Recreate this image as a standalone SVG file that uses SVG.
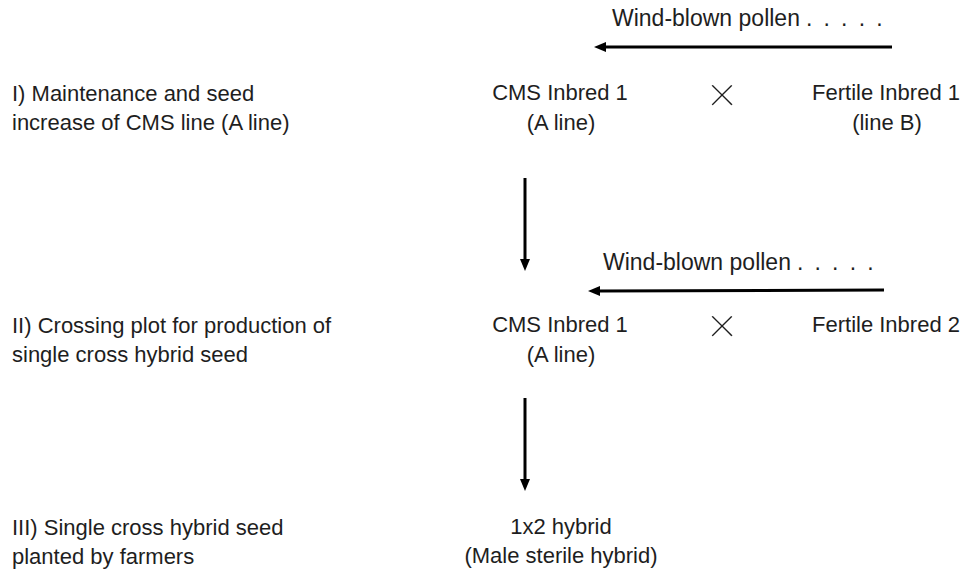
<svg xmlns="http://www.w3.org/2000/svg" width="968" height="574" viewBox="0 0 968 574">
<style>
text{font-family:"Liberation Sans",Arial,sans-serif;font-size:22px;fill:#1e1e1e}
.c{text-anchor:middle}
.w{font-size:23px}
.x{font-size:54px;text-anchor:middle;stroke:#fff;stroke-width:2.4px}
.d{letter-spacing:2.4px}
.a{stroke:#000;stroke-width:3;fill:none}
</style>
<defs>
<marker id="ah" markerWidth="12" markerHeight="10" refX="1" refY="5" orient="auto" markerUnits="userSpaceOnUse" viewBox="0 0 12 10">
<path d="M0,0 L12,5 L0,10 Z" fill="#000"/>
</marker>
</defs>
<rect width="968" height="574" fill="#fff"/>
<g id="connectors">
<line class="a" x1="892" y1="47" x2="605" y2="47" marker-end="url(#ah)"/>
<line class="a" x1="525" y1="178" x2="525" y2="260" marker-end="url(#ah)"/>
<line class="a" x1="884" y1="290" x2="599" y2="291" marker-end="url(#ah)"/>
<line class="a" x1="525" y1="398" x2="525" y2="480" marker-end="url(#ah)"/>
</g>
<g id="wind1"><text class="w" x="612" y="26">Wind-blown pollen<tspan class="d" dx="6">. . . . .</tspan></text></g>
<g id="wind2"><text class="w" x="603" y="270">Wind-blown pollen<tspan class="d" dx="6">. . . . .</tspan></text></g>
<g id="stage1"><text x="12" y="101">I) Maintenance and seed</text><text x="12" y="130">increase of CMS line (A line)</text></g>
<g id="cms1"><text class="c" x="560" y="100">CMS Inbred 1</text><text class="c" x="561" y="130">(A line)</text></g>
<g id="cross1"><text class="x" x="722" y="113">×</text></g>
<g id="fertile1"><text class="c" x="886" y="100">Fertile Inbred 1</text><text class="c" x="887" y="130">(line B)</text></g>
<g id="stage2"><text x="12" y="333">II) Crossing plot for production of</text><text x="12" y="362">single cross hybrid seed</text></g>
<g id="cms2"><text class="c" x="560" y="332">CMS Inbred 1</text><text class="c" x="561" y="362">(A line)</text></g>
<g id="cross2"><text class="x" x="722" y="344">×</text></g>
<g id="fertile2"><text class="c" x="886" y="332">Fertile Inbred 2</text></g>
<g id="stage3"><text x="12" y="535">III) Single cross hybrid seed</text><text x="12" y="564">planted by farmers</text></g>
<g id="hybrid"><text class="c" x="561" y="534">1x2 hybrid</text><text class="c" x="561" y="563">(Male sterile hybrid)</text></g>
</svg>
